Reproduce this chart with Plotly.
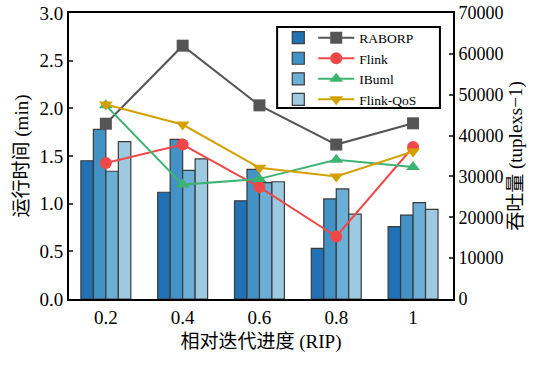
import plotly.graph_objects as go

categories = ["0.2", "0.4", "0.6", "0.8", "1"]

# run time (min), left axis - bars
bar_names = ["RABORP", "Flink", "IBuml", "Flink-QoS"]
bar_raborp = [1.45, 1.12, 1.03, 0.53, 0.76]
bar_flink = [1.78, 1.675, 1.36, 1.05, 0.88]
bar_ibuml = [1.34, 1.35, 1.22, 1.155, 1.01]
bar_flinkqos = [1.65, 1.47, 1.23, 0.89, 0.94]

# throughput (tuples/s), right axis - lines
thr_raborp = [42900, 62000, 47400, 37800, 43000]
thr_flink = [33300, 37800, 27400, 15300, 37200]
thr_ibuml = [47400, 28000, 29400, 34100, 32300]
thr_flinkqos = [47600, 42700, 32100, 30000, 36100]

left_ticks = [0, 0.5, 1.0, 1.5, 2.0, 2.5, 3.0]
right_ticks = [0, 10000, 20000, 30000, 40000, 50000, 60000, 70000]

bar_colors = ["#2171b5", "#4292c6", "#6baed6", "#9ecae1"]
line_colors = ["#555555", "#f04848", "#3cb371", "#d4a000"]
line_symbols = ["square", "circle", "triangle-up", "triangle-down"]

SERIF = "Liberation Serif, Times New Roman, Noto Sans CJK SC, serif"

fig = go.Figure()
for name, vals, col in zip(bar_names, [bar_raborp, bar_flink, bar_ibuml, bar_flinkqos], bar_colors):
    fig.add_trace(go.Bar(
        x=categories, y=vals, name=" ", marker=dict(color=col, line=dict(color="#3a3a3a", width=1.2)),
        legend="legend", yaxis="y", showlegend=True))

for name, vals, col, sym in zip(bar_names, [thr_raborp, thr_flink, thr_ibuml, thr_flinkqos], line_colors, line_symbols):
    fig.add_trace(go.Scatter(
        x=categories, y=vals, name=name, mode="lines+markers",
        line=dict(color=col, width=2), marker=dict(symbol=sym, size=12, color=col),
        yaxis="y2", legend="legend2"))

fig.update_layout(
    width=534, height=365,
    margin=dict(l=69, r=81, t=13, b=66, autoexpand=False),
    paper_bgcolor="white", plot_bgcolor="white",
    font=dict(family=SERIF, size=18, color="black"),
    barmode="group", bargap=0.35, bargroupgap=0,
    xaxis=dict(
        type="category", range=[-0.48, 4.52], automargin=False,
        showline=True, linecolor="black", linewidth=2, mirror=True,
        ticks="", tickfont=dict(size=19),
        title=dict(text="相对迭代进度 (RIP)", font=dict(size=19), standoff=8),
    ),
    yaxis=dict(
        range=[0, 3], tickvals=left_ticks, tickformat=".1f", automargin=False,
        showline=True, linecolor="black", linewidth=2,
        ticks="inside", ticklen=4, tickwidth=1.5, tickfont=dict(size=19),
        showgrid=False, zeroline=False,
        title=dict(text="运行时间 (min)", font=dict(size=19), standoff=6),
    ),
    yaxis2=dict(
        range=[0, 70000], tickvals=right_ticks, tickformat="d", overlaying="y", side="right",
        showline=True, linecolor="black", linewidth=2,
        ticks="inside", ticklen=4, tickwidth=1.5, tickfont=dict(size=18),
        showgrid=False, zeroline=False, automargin=False,
        title=dict(text="吞吐量 (tuplexs−1)", font=dict(size=19), standoff=6),
    ),
    legend=dict(
        x=0.545, y=0.967, xanchor="left", yanchor="top",
        bgcolor="rgba(0,0,0,0)", font=dict(size=13.5), itemwidth=30,
        tracegroupgap=0, traceorder="normal",
    ),
    legend2=dict(
        x=0.636, y=0.967, xanchor="left", yanchor="top",
        bgcolor="rgba(0,0,0,0)", font=dict(size=13.5, family=SERIF), itemwidth=36,
        tracegroupgap=0, traceorder="normal",
    ),
    shapes=[dict(type="rect", xref="paper", yref="paper", x0=0.542, x1=0.966, y0=0.668, y1=0.951,
                 line=dict(color="black", width=2), fillcolor="rgba(0,0,0,0)")],
)

fig.write_html("out.html", config={"displayModeBar": False},
               post_script="document.body.style.margin='0';document.body.style.overflow='hidden';")
